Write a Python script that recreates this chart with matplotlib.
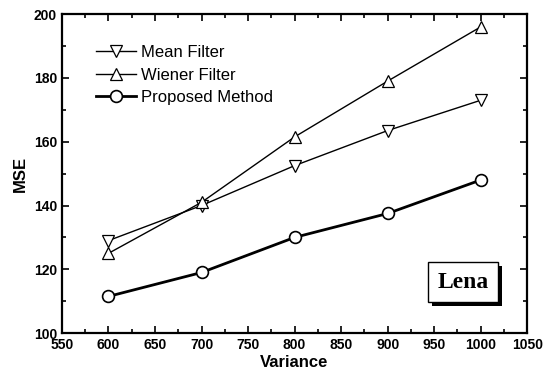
import matplotlib.pyplot as plt
from matplotlib.ticker import MultipleLocator
import matplotlib.patheffects as pe

variance = [600, 700, 800, 900, 1000]
mean_filter = [129, 140, 152.5, 163.5, 173]
wiener_filter = [125, 141, 161.5, 179, 196]
proposed = [111.5, 119, 130, 137.5, 148]

plt.rcParams['font.family'] = ['Liberation Sans', 'DejaVu Sans']

fig = plt.figure(figsize=(5.43, 3.82), dpi=100)
ax = fig.add_axes([0.114, 0.128, 0.857, 0.835])

ax.plot(variance, mean_filter, color='black', lw=1.0, marker='v', ms=8.5,
        mfc='white', mec='black', mew=0.9, label='Mean Filter')
ax.plot(variance, wiener_filter, color='black', lw=1.0, marker='^', ms=8.5,
        mfc='white', mec='black', mew=0.9, label='Wiener Filter')
ax.plot(variance, proposed, color='black', lw=2.0, marker='o', ms=8.5,
        mfc='white', mec='black', mew=1.2, label='Proposed Method')

ax.set_xlim(550, 1050)
ax.set_ylim(100, 200)
ax.xaxis.set_major_locator(MultipleLocator(50))
ax.xaxis.set_minor_locator(MultipleLocator(25))
ax.yaxis.set_major_locator(MultipleLocator(20))
ax.yaxis.set_minor_locator(MultipleLocator(10))
ax.tick_params(which='both', direction='in', top=True, right=True, width=1.2)
ax.tick_params(which='major', length=5, labelsize=10)
ax.tick_params(which='minor', length=3)
for lab in ax.get_xticklabels() + ax.get_yticklabels():
    lab.set_fontweight('bold')
for s in ax.spines.values():
    s.set_linewidth(1.6)

ax.set_xlabel('Variance', fontsize=12, fontweight='bold', labelpad=2)
ax.set_ylabel('MSE', fontsize=12, fontweight='bold', labelpad=4)

ax.legend(loc='upper left', bbox_to_anchor=(0.04, 0.95), frameon=False,
          fontsize=12, handlelength=2.4, labelspacing=0.45, handletextpad=0.3)

ax.text(0.862, 0.16, 'Lena', transform=ax.transAxes, fontsize=17,
        fontweight='bold', family='Liberation Serif', ha='center', va='center',
        bbox=dict(boxstyle='square,pad=0.4', fc='white', ec='black', lw=1.0,
                  path_effects=[pe.withSimplePatchShadow(offset=(3, -3), shadow_rgbFace='black', alpha=1)]))

fig.savefig('out.png', dpi=100)
